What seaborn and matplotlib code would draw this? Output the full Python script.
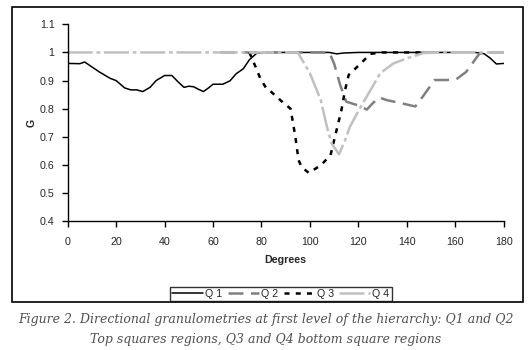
import matplotlib
matplotlib.use("Agg")
import matplotlib.pyplot as plt
from matplotlib.patches import Rectangle
from matplotlib.ticker import FormatStrFormatter
import seaborn as sns

# values
q1_x = [0, 5, 7, 13, 17.5, 20, 23.5, 26, 28.5, 31, 34, 36.5, 40, 43, 45.5, 48, 50, 52, 54, 56, 58,
        60, 64, 67, 69.5, 72.5, 75, 78, 81, 90, 100, 108, 111, 114, 120, 130, 140, 150, 160, 168,
        170.5, 172, 174.5, 177, 180]
q1_y = [0.961, 0.96, 0.966, 0.931, 0.908, 0.900, 0.874, 0.867, 0.867, 0.861, 0.876, 0.900, 0.918,
        0.918, 0.896, 0.876, 0.880, 0.878, 0.869, 0.861, 0.873, 0.887, 0.887, 0.899, 0.924, 0.942,
        0.974, 0.997, 1.0, 1.0, 1.0, 1.0, 0.995, 0.998, 1.0, 1.0, 1.0, 1.0, 1.0, 1.0, 0.998, 0.995,
        0.979, 0.959, 0.961]

q2_x = [63, 80, 100, 108, 110, 112.5, 115, 119.5, 123.5, 126, 128.5, 132, 138.5, 143.5, 147, 151.5,
        156.5, 160.5, 164.5, 170, 175, 180]
q2_y = [1, 1, 1, 1, 0.96, 0.884, 0.825, 0.813, 0.797, 0.82, 0.84, 0.83, 0.818, 0.808, 0.848, 0.902,
        0.902, 0.905, 0.931, 0.996, 1, 1]

q3_x = [75, 77.5, 79.5, 82, 84, 88.5, 92, 94, 95.3, 96.6, 99.5, 104.5, 108.5, 111, 113, 114.5, 116,
        121, 125, 130, 140, 148]
q3_y = [1, 0.95, 0.908, 0.872, 0.86, 0.825, 0.80, 0.70, 0.617, 0.593, 0.572, 0.599, 0.635, 0.724,
        0.795, 0.866, 0.92, 0.961, 0.995, 1, 1, 1]

q4_x = [0, 20, 40, 60, 80, 95, 100, 104.5, 107, 109, 112, 114.5, 116.5, 121, 125, 129, 134.5, 140,
        147, 160, 180]
q4_y = [1, 1, 1, 1, 1, 1, 0.926, 0.83, 0.736, 0.676, 0.638, 0.688, 0.736, 0.807, 0.866, 0.926,
        0.961, 0.979, 0.998, 1, 1]

labels = ["Q 1", "Q 2", "Q 3", "Q 4"]
x_ticks = [0, 20, 40, 60, 80, 100, 120, 140, 160, 180]
y_ticks = [0.4, 0.5, 0.6, 0.7, 0.8, 0.9, 1.0, 1.1]

sns.set_style("ticks")
plt.rcParams["font.family"] = ["Liberation Sans", "DejaVu Sans"]

fig = plt.figure(figsize=(5.31, 3.5), dpi=100)
ax = fig.add_axes([0.1275, 0.3677, 0.8211, 0.5629])

sns.lineplot(x=q1_x, y=q1_y, ax=ax, color="black", lw=1.1, label=labels[0], legend=False)
sns.lineplot(x=q2_x, y=q2_y, ax=ax, color="#808080", lw=1.8, linestyle=(0, (6, 3)),
             label=labels[1], legend=False)
sns.lineplot(x=q3_x, y=q3_y, ax=ax, color="black", lw=1.8, linestyle=(0, (2, 2.5)),
             label=labels[2], legend=False)
sns.lineplot(x=q4_x, y=q4_y, ax=ax, color="#c0c0c0", lw=1.8, linestyle=(0, (10, 1.5, 1.5, 1.5)),
             label=labels[3], legend=False)

ax.set_xlim(0, 180)
ax.set_ylim(0.4, 1.1)
ax.set_xticks(x_ticks)
ax.set_yticks(y_ticks)
ax.yaxis.set_major_formatter(FormatStrFormatter("%g"))
ax.tick_params(labelsize=7.7, length=4.5, width=1, color="black")
ax.tick_params(axis="x", pad=6.5)
ax.tick_params(axis="y", pad=5)
ax.set_xlabel("Degrees", fontsize=7.7, fontweight="bold", labelpad=6)
ax.set_ylabel("G", fontsize=7.7, fontweight="bold", labelpad=2)
sns.despine(ax=ax)
for s in ["left", "bottom"]:
    ax.spines[s].set_color("black")
    ax.spines[s].set_linewidth(1)

leg = fig.legend(ax.lines, labels, loc="center", bbox_to_anchor=(0.529, 0.16), ncol=4,
                 frameon=True, fancybox=False, edgecolor="black", fontsize=7.7,
                 handlelength=2.9, handletextpad=0.2, columnspacing=0.5,
                 borderpad=0.2, borderaxespad=0)
leg.get_frame().set_linewidth(1)

fig.patches.append(Rectangle((11.7 / 531, 1 - 302.3 / 350), 511 / 531, 295.6 / 350,
                             transform=fig.transFigure, fill=False, edgecolor="black", lw=1.2))

cap_font = {"family": ["DejaVu Serif"], "style": "italic",
            "fontsize": 9.0, "color": "#505050"}
fig.text(0.5, 1 - 319 / 350, "Figure 2. Directional granulometries at first level of the hierarchy: Q1 and Q2",
         ha="center", va="center", **cap_font)
fig.text(0.5, 1 - 339 / 350, "Top squares regions, Q3 and Q4 bottom square regions",
         ha="center", va="center", **cap_font)

fig.savefig("out.png", dpi=100, facecolor="white")
